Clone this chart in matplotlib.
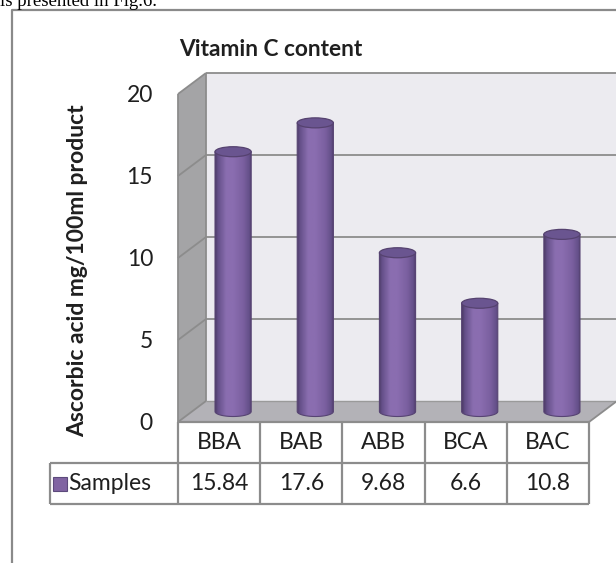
import numpy as np
import matplotlib
matplotlib.use('Agg')
import matplotlib.pyplot as plt
from matplotlib.patches import Polygon, Ellipse, PathPatch
from matplotlib.path import Path
from matplotlib.lines import Line2D
import matplotlib.transforms as mtransforms
from matplotlib.colors import LinearSegmentedColormap

# ---------------- data ----------------
categories = ['BBA', 'BAB', 'ABB', 'BCA', 'BAC']
values = [15.84, 17.6, 9.68, 6.6, 10.8]
value_labels = ['15.84', '17.6', '9.68', '6.6', '10.8']
series_name = 'Samples'
y_ticks = [0, 5, 10, 15, 20]
title = 'Vitamin C content'
y_label = 'Ascorbic acid mg/100ml product'
caption = 'is presented in Fig.6.'

# ---------------- layout ----------------
W, H, DPI = 616, 563, 100
fig = plt.figure(figsize=(W / DPI, H / DPI), dpi=DPI)
fig.patch.set_facecolor('white')
FONT = 'Lato'
TXT = '#1f1f1f'
GRID = '#8c8c8c'
FS = 16.5

x0, x1 = 178, 589          # front plane, pixels
ytop0, ytop1 = 422, 94     # pixel rows (from top) of y=0 and y=20
ax = fig.add_axes([x0 / W, 1 - ytop0 / H, (x1 - x0) / W, (ytop0 - ytop1) / H])
n = len(categories)
YMAX = y_ticks[-1]
ax.patch.set_visible(False)
for s in ax.spines.values():
    s.set_visible(False)

DX, DY = 28, 21            # depth offset (pixels)


def setlims():
    ax.set_xlim(0, n)
    ax.set_ylim(0, YMAX)
    ax.set_aspect('auto')


setlims()


def P(x, y, d):
    px, py = ax.transData.transform((x, y))
    return (px + DX * d, py + DY * d)


def depth_tr(d):
    return ax.transData + mtransforms.Affine2D().translate(DX * d, DY * d)


ID = mtransforms.IdentityTransform()


def poly(pts, fc, ec='none', lw=0, z=1):
    p = Polygon(pts, closed=True, transform=ID, facecolor=fc, edgecolor=ec, lw=lw, zorder=z)
    ax.add_patch(p)
    p.set_clip_on(False)
    return p


def seg(a, b, color=GRID, lw=1.3, z=2):
    l = Line2D([a[0], b[0]], [a[1], b[1]], transform=ID, color=color, lw=lw, zorder=z,
               solid_capstyle='butt')
    ax.add_line(l)
    l.set_clip_on(False)


# walls
poly([P(0, 0, 1), P(n, 0, 1), P(n, YMAX, 1), P(0, YMAX, 1)], '#ecebf0', z=1)
poly([P(0, 0, 0), P(0, 0, 1), P(0, YMAX, 1), P(0, YMAX, 0)], '#a4a4a6', z=1)
poly([P(0, 0, 0), P(n, 0, 0), P(n, 0, 1), P(0, 0, 1)], '#b3b2b7', z=1)

for t in y_ticks[1:]:
    seg(P(0, t, 1), P(n, t, 1))
    seg(P(0, t, 0), P(0, t, 1))
seg(P(0, 0, 1), P(0, YMAX, 1))
seg(P(0, 0, 0), P(0, YMAX, 0))
seg(P(0, 0, 1), P(n, 0, 1), color='#9a9a9a', lw=1.0)
seg(P(0, 0, 0), P(0, 0, 1))
seg(P(n, 0, 0), P(n, 0, 1))

# cylinders
cyl_cmap = LinearSegmentedColormap.from_list('cyl', [
    (0.0, '#4e3c69'), (0.08, '#65508a'), (0.3, '#8a6eb0'), (0.5, '#8a6db0'),
    (0.78, '#7a5f9f'), (0.93, '#65508a'), (1.0, '#4f3d6b')])
grad = np.linspace(0, 1, 64).reshape(1, -1)
px_per_unit = ax.transData.transform((0, 1))[1] - ax.transData.transform((0, 0))[1]
CW = 0.44
EH = 10 / px_per_unit
tr = depth_tr(0.5)
for i, v in enumerate(values):
    xc = i + 0.5
    xl, xr = xc - CW / 2, xc + CW / 2
    th = np.linspace(np.pi, 2 * np.pi, 50)
    verts = [(xl, v), (xl, 0)] + [(xc + CW / 2 * np.cos(a), EH / 2 * np.sin(a)) for a in th] + [(xr, v), (xl, v)]
    path = Path(verts, closed=True)
    clip = PathPatch(path, transform=tr)
    im = ax.imshow(grad, extent=(xl, xr, -EH, v), transform=tr, cmap=cyl_cmap,
                   aspect='auto', interpolation='bilinear', zorder=3, clip_path=clip)
    im.set_clip_box(None)
    outline = PathPatch(path, transform=tr, facecolor='none', edgecolor='#574473', lw=0.8, zorder=3.1)
    ax.add_patch(outline)
    outline.set_clip_on(False)
    top = Ellipse((xc, v), CW, EH, transform=tr, facecolor='#6a5590', edgecolor='#55426f',
                  lw=0.9, zorder=3.2)
    ax.add_patch(top)
    top.set_clip_on(False)

setlims()

# axis ticks
ax.set_xticks([])
ax.set_yticks(y_ticks)
ax.set_yticklabels([str(t) for t in y_ticks], fontfamily=FONT, fontsize=FS, color=TXT)
ax.tick_params(axis='y', length=0, pad=18)

ax.set_ylabel(y_label, fontfamily=FONT, fontweight='bold', fontsize=16.5, color=TXT)
ax.yaxis.set_label_coords(-0.219, 0.46)

# data table
ROW = 2.5
LEG_X = -1.56
TL = dict(colors=GRID, lw=1.6, clip_on=False, zorder=4)
ax.hlines([0], 0, n, **TL)
ax.hlines([-ROW, -2 * ROW], LEG_X, n, **TL)
ax.vlines(list(range(n + 1)), -2 * ROW, 0, **TL)
ax.vlines([LEG_X], -2 * ROW, -ROW, **TL)
for i, (c, vl) in enumerate(zip(categories, value_labels)):
    ax.text(i + 0.5, -ROW / 2, c, ha='center', va='center', fontfamily=FONT,
            fontsize=FS, color=TXT, clip_on=False)
    ax.text(i + 0.5, -1.5 * ROW, vl, ha='center', va='center', fontfamily=FONT,
            fontsize=FS, color=TXT, clip_on=False)
ax.plot([-1.43], [-1.5 * ROW], marker='s', markersize=10.5, color='#8064a2',
        markeredgecolor='#5c4a7c', markeredgewidth=0.8, clip_on=False, zorder=5)
ax.text(-1.34, -1.5 * ROW, series_name, ha='left', va='center', fontfamily=FONT,
        fontsize=FS, color=TXT, clip_on=False)
setlims()

# title, chart border, caption
fig.text(271 / W, 1 - 50 / H, title, ha='center', va='center', fontfamily=FONT,
         fontweight='bold', fontsize=16.3, color=TXT)
fig.add_artist(Line2D([12 / W, 12 / W, 1.02], [-0.02, 1 - 10 / H, 1 - 10 / H],
                      transform=fig.transFigure, color='#8a8a8a', lw=1.6))
fig.text(-0.5 / W, 1 - 5.5 / H, caption, ha='left', va='baseline',
         fontfamily='Liberation Serif', fontsize=13.5, color='black')

fig.savefig('out.png', dpi=DPI)
